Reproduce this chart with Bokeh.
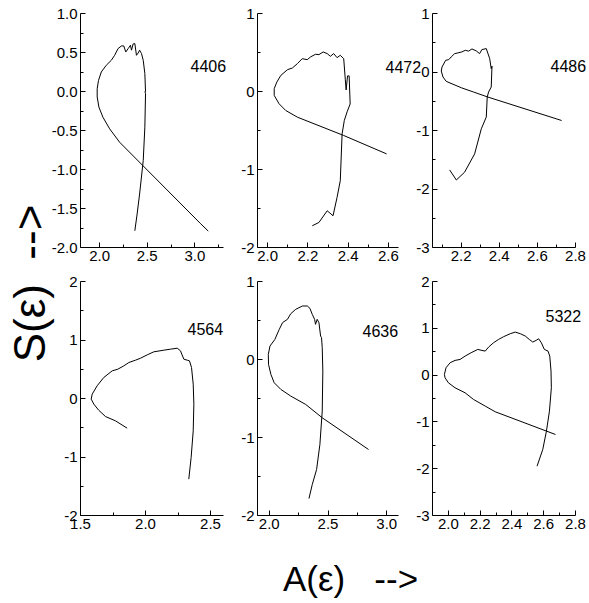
import math
from bokeh.plotting import figure
from bokeh.layouts import row, column
from bokeh.models import Range1d, FixedTicker, PrintfTickFormatter, Label
from bokeh.embed import file_html
from bokeh.resources import INLINE

FONT = "Liberation Sans"

# ---- data: panel names ----
names = ["4406", "4472", "4486", "4564", "4636", "5322"]

# ---- curve values A(eps), S(eps) ----
a_4406 = [3.14, 3.056, 2.21, 2.106, 2.035, 1.993, 1.975, 1.975, 1.989, 2.018, 2.07, 2.123, 2.158,
          2.194, 2.229, 2.254, 2.275, 2.3, 2.324, 2.335, 2.352, 2.37, 2.387, 2.405, 2.42, 2.44,
          2.458, 2.475, 2.482, 2.476, 2.482, 2.475, 2.458, 2.42, 2.394, 2.37]
s_4406 = [-1.79, -1.69, -0.65, -0.479, -0.329, -0.2, -0.07, 0.036, 0.143, 0.25, 0.336, 0.4, 0.464,
          0.55, 0.584, 0.584, 0.507, 0.55, 0.593, 0.53, 0.61, 0.614, 0.464, 0.494, 0.53, 0.486,
          0.4, 0.23, 0.0, 0.0, -0.03, -0.457, -0.886, -1.314, -1.57, -1.786]

a_4472 = [2.591, 2.378, 2.148, 2.09, 2.057, 2.033, 2.033, 2.046, 2.066, 2.099, 2.123, 2.148, 2.172,
          2.197, 2.213, 2.238, 2.255, 2.276, 2.296, 2.312, 2.328, 2.345, 2.361, 2.378, 2.386, 2.39,
          2.397, 2.405, 2.41, 2.395, 2.381, 2.37, 2.361, 2.345, 2.325, 2.296, 2.255, 2.222]
s_4472 = [-0.8, -0.564, -0.329, -0.243, -0.157, -0.05, 0.036, 0.121, 0.207, 0.28, 0.301, 0.357, 0.421,
          0.408, 0.443, 0.477, 0.473, 0.507, 0.486, 0.451, 0.486, 0.434, 0.464, 0.421, 0.15, 0.02,
          0.2, 0.2, -0.16, -0.26, -0.371, -0.543, -1.143, -1.357, -1.593, -1.529, -1.679, -1.721]

a_4486 = [2.727, 2.341, 2.266, 2.201, 2.122, 2.105, 2.096, 2.1, 2.119, 2.135, 2.148, 2.166, 2.183,
          2.204, 2.222, 2.239, 2.257, 2.28, 2.297, 2.309, 2.332, 2.35, 2.358, 2.362, 2.358, 2.344,
          2.337, 2.332, 2.306, 2.271, 2.218, 2.175, 2.14]
s_4486 = [-0.829, -0.429, -0.343, -0.269, -0.16, -0.086, 0.017, 0.086, 0.2, 0.211, 0.257, 0.314, 0.326,
          0.343, 0.371, 0.357, 0.394, 0.36, 0.314, 0.383, 0.4, 0.229, 0.057, 0.1, -0.257, -0.343,
          -0.429, -0.771, -0.971, -1.4, -1.714, -1.846, -1.674]

a_4564 = [1.859, 1.769, 1.692, 1.64, 1.603, 1.582, 1.59, 1.628, 1.679, 1.744, 1.787, 1.833, 1.872,
          1.923, 1.962, 2.013, 2.064, 2.141, 2.192, 2.244, 2.269, 2.295, 2.321, 2.338, 2.354, 2.367,
          2.372, 2.367, 2.351, 2.333]
s_4564 = [-0.507, -0.382, -0.308, -0.2, -0.097, -0.011, 0.074, 0.217, 0.359, 0.473, 0.501, 0.558, 0.615,
          0.655, 0.689, 0.746, 0.798, 0.826, 0.843, 0.86, 0.815, 0.672, 0.655, 0.644, 0.53, 0.245,
          -0.097, -0.553, -1.009, -1.379]

a_4636 = [2.845, 2.451, 2.31, 2.183, 2.099, 2.042, 2.014, 1.994, 1.992, 2.006, 2.048, 2.085, 2.113,
          2.155, 2.183, 2.225, 2.282, 2.324, 2.346, 2.366, 2.386, 2.394, 2.408, 2.423, 2.437, 2.445,
          2.451, 2.456, 2.451, 2.431, 2.403, 2.366, 2.338]
s_4636 = [-1.154, -0.747, -0.576, -0.469, -0.384, -0.298, -0.191, -0.063, 0.065, 0.172, 0.258, 0.386, 0.472,
          0.515, 0.587, 0.643, 0.686, 0.686, 0.656, 0.579, 0.515, 0.451, 0.515, 0.472, 0.301, 0.28,
          0.151, -0.148, -0.661, -1.089, -1.41, -1.603, -1.783]

a_5322 = [2.674, 2.295, 2.232, 2.158, 2.105, 2.042, 2.0, 1.979, 1.975, 1.985, 2.011, 2.042, 2.074,
          2.105, 2.143, 2.185, 2.211, 2.232, 2.253, 2.284, 2.316, 2.347, 2.389, 2.421, 2.453, 2.484,
          2.509, 2.531, 2.552, 2.568, 2.585, 2.604, 2.627, 2.638, 2.646, 2.648, 2.636, 2.617, 2.594, 2.558]
s_5322 = [-1.269, -0.784, -0.663, -0.52, -0.378, -0.271, -0.164, -0.057, 0.014, 0.157, 0.264, 0.314, 0.335,
          0.406, 0.478, 0.549, 0.527, 0.513, 0.599, 0.691, 0.763, 0.82, 0.884, 0.919, 0.884, 0.834,
          0.763, 0.706, 0.741, 0.777, 0.691, 0.549, 0.513, 0.406, 0.086, -0.271, -0.77, -1.197, -1.589, -1.946]

# ---- axis ranges and ticks ----
x_ranges = [(1.8, 3.3), (1.95, 2.65), (2.05, 2.8), (1.5, 2.6), (1.9, 3.1), (1.9, 2.8)]
y_ranges = [(-2.0, 1.0), (-2.0, 1.0), (-3.0, 1.0), (-2.0, 2.0), (-2.0, 1.0), (-3.0, 2.0)]
x_major = [[2.0, 2.5, 3.0], [2.0, 2.2, 2.4, 2.6], [2.2, 2.4, 2.6, 2.8],
           [1.5, 2.0, 2.5], [2.0, 2.5, 3.0], [2.0, 2.2, 2.4, 2.6, 2.8]]
x_minor = [[2.25, 2.75, 3.25], [2.1, 2.3, 2.5], [2.1, 2.3, 2.5, 2.7],
           [1.75, 2.25], [2.25, 2.75], [2.1, 2.3, 2.5, 2.7]]
y_major = [[-2.0, -1.5, -1.0, -0.5, 0.0, 0.5, 1.0], [-2, -1, 0, 1], [-3, -2, -1, 0, 1],
           [-2, -1, 0, 1, 2], [-2, -1, 0, 1], [-3, -2, -1, 0, 1, 2]]
y_minor = [[-1.75, -1.25, -0.75, -0.25, 0.25, 0.75], [-1.5, -0.5, 0.5], [-2.5, -1.5, -0.5, 0.5],
           [-1.5, -0.5, 0.5, 1.5], [-1.5, -0.5, 0.5], [-2.5, -1.5, -0.5, 0.5, 1.5]]
x_fmt = ["%.1f"] * 6
y_fmt = ["%.1f", "%d", "%d", "%d", "%d", "%d"]

curves = [(a_4406, s_4406), (a_4472, s_4472), (a_4486, s_4486),
          (a_4564, s_4564), (a_4636, s_4636), (a_5322, s_5322)]

# figure geometry: (width, height, border_left, border_top, border_bottom)
geom = [(180, 270, 34, 13, 23), (176, 270, 31, 13, 23), (187, 270, 30, 13, 23),
        (180, 275, 34, 11, 30), (176, 275, 31, 11, 30), (187, 275, 30, 11, 30)]
frame_w = [143, 141, 143, 143, 141, 143]

# page positions (px from top-left) of the panel names, left / baseline
name_pos = [(190, 65), (385, 66), (550, 65), (187, 328), (362, 330), (545, 315)]


def style_axis(ax, major, minor, fmt):
    ax.ticker = FixedTicker(ticks=major, minor_ticks=minor)
    ax.formatter = PrintfTickFormatter(format=fmt)
    ax.axis_line_color = "black"
    ax.major_tick_line_color = "black"
    ax.minor_tick_line_color = "black"
    ax.major_tick_in = 5
    ax.major_tick_out = 0
    ax.minor_tick_in = 3
    ax.minor_tick_out = 0
    ax.major_label_text_font = FONT
    ax.major_label_text_font_size = "15px"
    ax.major_label_text_color = "black"
    ax.major_label_standoff = 3


panels = []
for i in range(6):
    w, h, bl, bt, bb = geom[i]
    p = figure(width=w, height=h, x_range=Range1d(*x_ranges[i]), y_range=Range1d(*y_ranges[i]),
               output_backend="svg", toolbar_location=None,
               min_border_left=bl, min_border_right=w - bl - frame_w[i],
               min_border_top=bt, min_border_bottom=bb,
               background_fill_alpha=0, border_fill_alpha=0, outline_line_color=None)
    p.grid.visible = False
    style_axis(p.xaxis[0], x_major[i], x_minor[i], x_fmt[i])
    style_axis(p.yaxis[0], y_major[i], y_minor[i], y_fmt[i])
    xs, ys = curves[i]
    p.line(xs, ys, line_color="black", line_width=1)
    panels.append(p)

grid = column(row(panels[0], panels[1], panels[2]), row(panels[3], panels[4], panels[5]),
              margin=(0, 0, 0, 46))

# transparent overlay holding the free texts (page pixel coordinates)
ov = figure(width=589, height=602, x_range=Range1d(0, 589), y_range=Range1d(602, 0),
            output_backend="svg", toolbar_location=None, x_axis_location=None, y_axis_location=None,
            min_border=0, outline_line_color=None, background_fill_alpha=0, border_fill_alpha=0,
            margin=(-545, 0, 0, 0))
ov.grid.visible = False
for k in range(6):
    ov.add_layout(Label(x=name_pos[k][0], y=name_pos[k][1], text=names[k], text_font=FONT,
                        text_font_size="16px", text_color="black",
                        text_align="left", text_baseline="alphabetic"))
ov.add_layout(Label(x=28.5, y=283, text="S(\u03b5) \u00a0-->", angle=math.pi / 2, text_font=FONT,
                    text_font_size="44px", text_color="black", text_align="center",
                    text_baseline="middle"))
ov.add_layout(Label(x=350, y=578, text="A(\u03b5) \u00a0\u00a0-->", text_font=FONT,
                    text_font_size="35px", text_color="black", text_align="center",
                    text_baseline="middle"))

layout = column(grid, ov)

open("out.html", "w").write(file_html(layout, INLINE))
